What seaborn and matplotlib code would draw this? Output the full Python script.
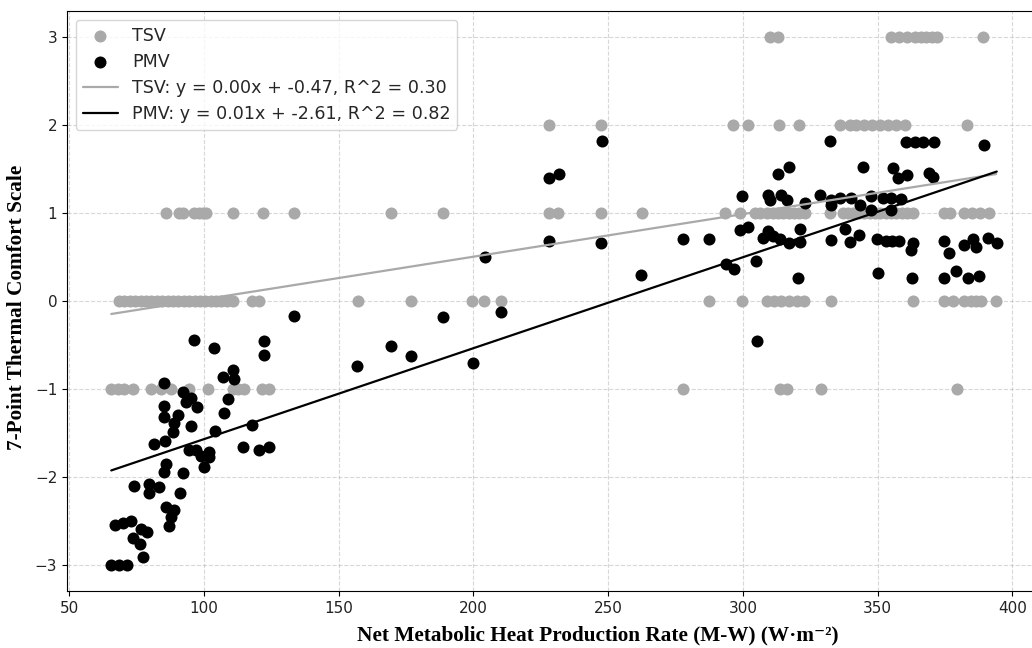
import numpy as np
import seaborn as sns
import matplotlib.pyplot as plt

#------------------------------------------------------------------------
# TSV / PMV vs net metabolic heat production rate
#------------------------------------------------------------------------
# TSV votes, grouped by row of the 7-point scale
tsv_rows = {
    3: [310, 313, 355, 358, 361, 364, 366, 368, 370, 372, 389],
    2: [228, 247.5, 296.5, 302, 313.5, 320.8, 336, 339.6, 342, 345, 348, 351,
        354, 357, 360, 383.3],
    1: [86, 90.7, 92.2, 96.3, 98, 99.5, 100.7, 110.6, 122, 133.4, 169.5, 188.8,
        228, 231.5, 247.4, 262.5, 293.3, 298.9, 304.4, 306.5, 309, 311, 313, 315,
        317, 319, 321, 323, 332.2, 337, 339, 341, 343, 345, 347, 349, 351, 353,
        355, 357, 359, 361, 363, 374.8, 376.7, 382, 385, 388, 391.5],
    0: [68.5, 70.5, 72.5, 74.5, 76.5, 78.5, 80.5, 82.5, 84.5, 86.5, 88.5, 90.5,
        92.5, 94.5, 96.5, 98.5, 100.5, 102.5, 104.5, 106.5, 108.5, 110.6, 118,
        120.4, 157.3, 176.7, 199.5, 204, 210.2, 287.4, 299.5, 309, 311.5, 314,
        317, 320, 322.5, 332.8, 363, 374.8, 377.8, 382, 384.5, 386.5, 388.5, 394],
    -1: [65.6, 68, 70.5, 73.6, 80.4, 84, 87.8, 94.4, 101.4, 110.6, 112.5, 114.8,
         121.7, 124, 277.8, 313.7, 316.3, 328.9, 379.6],
}
tsv_x = [x for v, xs in tsv_rows.items() for x in xs]
tsv_y = [v for v, xs in tsv_rows.items() for x in xs]

pmv_x = [133.4, 96.4, 103.8, 122.1, 122.1, 156.9, 85.1, 106.9, 110.6, 111.2,
         92.1, 95.2, 93.3, 97.4, 108.8, 107.5, 85.3, 85.3, 90.5, 89, 88.4, 95.2,
         104.1, 118, 81.6, 85.6, 94.6, 97, 98.9, 102, 102, 100.1, 114.3, 120.5,
         124.2, 85.9, 85.3, 92.1, 74.2, 79.7, 79.7, 83.4, 91.2, 85.9, 89, 87.8,
         87.1, 66.8, 69.9, 73, 73.6, 76.7, 78.9, 76.3, 77.3, 65.6, 68.5, 71.5,
         169.3, 176.7, 188.8, 199.8, 204.2, 210.2, 227.9, 227.9, 231.6, 247.6,
         247.3, 262.2, 277.6, 287.5, 293.6, 296.7, 299.5, 298.9, 302, 304.8,
         305.1, 309.4, 310, 313.1, 317.1, 314.3, 316.2, 322.9, 309.4, 307.5,
         311.2, 313.7, 317.1, 321.1, 321.1, 320.5,
         332.2, 344.6, 360.6, 364, 367, 371, 355.7, 357.5, 360.9, 369, 370.5,
         389.4, 328.8, 332.8, 332.8, 336, 340.2, 343.3, 347.6, 347.6, 352, 355,
         358.7, 355, 332.6, 337.8, 339.6, 343.1, 350.1, 349.7, 353, 355.5, 358,
         363.1, 362.5, 362.8, 374.8, 376.4, 374.8, 379.1, 382.2, 385.3, 386.5,
         383.5, 387.8, 390.9, 394.2]
pmv_y = [-0.165, -0.44, -0.54, -0.46, -0.61, -0.74, -0.93, -0.86, -0.79, -0.89,
         -1.04, -1.10, -1.15, -1.21, -1.12, -1.27, -1.19, -1.32, -1.30, -1.39,
         -1.49, -1.42, -1.48, -1.41, -1.63, -1.59, -1.70, -1.69, -1.76, -1.72,
         -1.78, -1.89, -1.66, -1.70, -1.66, -1.85, -1.95, -1.96, -2.11, -2.08,
         -2.19, -2.12, -2.19, -2.34, -2.38, -2.46, -2.56, -2.55, -2.53, -2.50,
         -2.70, -2.59, -2.63, -2.76, -2.91, -3, -3, -3,
         -0.51, -0.63, -0.18, -0.70, 0.50, -0.13, 0.68, 1.40, 1.45, 1.82,
         0.66, 0.30, 0.70, 0.70, 0.42, 0.36, 1.20, 0.81, 0.84, 0.46,
         -0.46, 1.21, 1.15, 1.45, 1.52, 1.21, 1.15, 1.11, 0.80, 0.72,
         0.74, 0.70, 0.66, 0.82, 0.67, 0.26,
         1.82, 1.53, 1.81, 1.81, 1.81, 1.81, 1.51, 1.40, 1.43, 1.46, 1.41,
         1.77, 1.21, 1.15, 1.09, 1.17, 1.17, 1.09, 1.20, 1.04, 1.17, 1.17,
         1.16, 1.04, 0.69, 0.82, 0.67, 0.75, 0.32, 0.70, 0.68, 0.68, 0.68,
         0.66, 0.58, 0.26, 0.68, 0.55, 0.26, 0.34, 0.64, 0.70, 0.62,
         0.26, 0.28, 0.72, 0.66]

# regression results (slope, intercept, R^2)
tsv_fit = (0.00485, -0.466, 0.30)
pmv_fit = (0.01035, -2.607, 0.82)

sns.set_style('ticks')
plt.rcParams['font.family'] = ['DejaVu Sans']

fig = plt.figure(figsize=(10.32, 6.48), dpi=100)
ax = fig.add_axes([67 / 1032, 57 / 648, 974 / 1032, 580 / 648])

sns.scatterplot(x=tsv_x, y=tsv_y, ax=ax, color='darkgray', s=75, linewidth=0, label='TSV')
sns.scatterplot(x=pmv_x, y=pmv_y, ax=ax, color='black', s=75, linewidth=0, label='PMV')

def fitline(xs, fit, name, color):
    xx = np.array([min(xs), max(xs)])
    m, b, r2 = fit
    ax.plot(xx, m * xx + b, color=color, linewidth=1.6,
            label=f'{name}: y = {m:.2f}x + {b:.2f}, R^2 = {r2:.2f}')

fitline(tsv_x, tsv_fit, 'TSV', 'darkgray')
fitline(pmv_x, pmv_fit, 'PMV', 'black')

ax.grid(True, linestyle='--', color='#b0b0b0', alpha=0.5)
for s in ax.spines.values():
    s.set_color('black')
ax.tick_params(labelsize=11, colors='black', labelcolor='#222222')
ax.set_xticks([50, 100, 150, 200, 250, 300, 350, 400])
ax.set_yticks([-3, -2, -1, 0, 1, 2, 3])

serif = ['Liberation Serif', 'DejaVu Serif']
ax.set_xlabel('Net Metabolic Heat Production Rate (M-W) (W·m⁻²)', family=serif,
              fontsize=15.3, fontweight='bold', color='black')
ax.set_ylabel('7-Point Thermal Comfort Scale', family=serif,
              fontsize=15.3, fontweight='bold', color='black')
# label sits centred a little right of the visible axes in the original
ax.xaxis.set_label_coords(0.545, -0.060)
ax.yaxis.set_label_coords(-0.041, 0.489)

ax.legend(loc='upper left', fontsize=12.6, labelspacing=0.46, frameon=True)

fig.savefig('out.png', dpi=100)
